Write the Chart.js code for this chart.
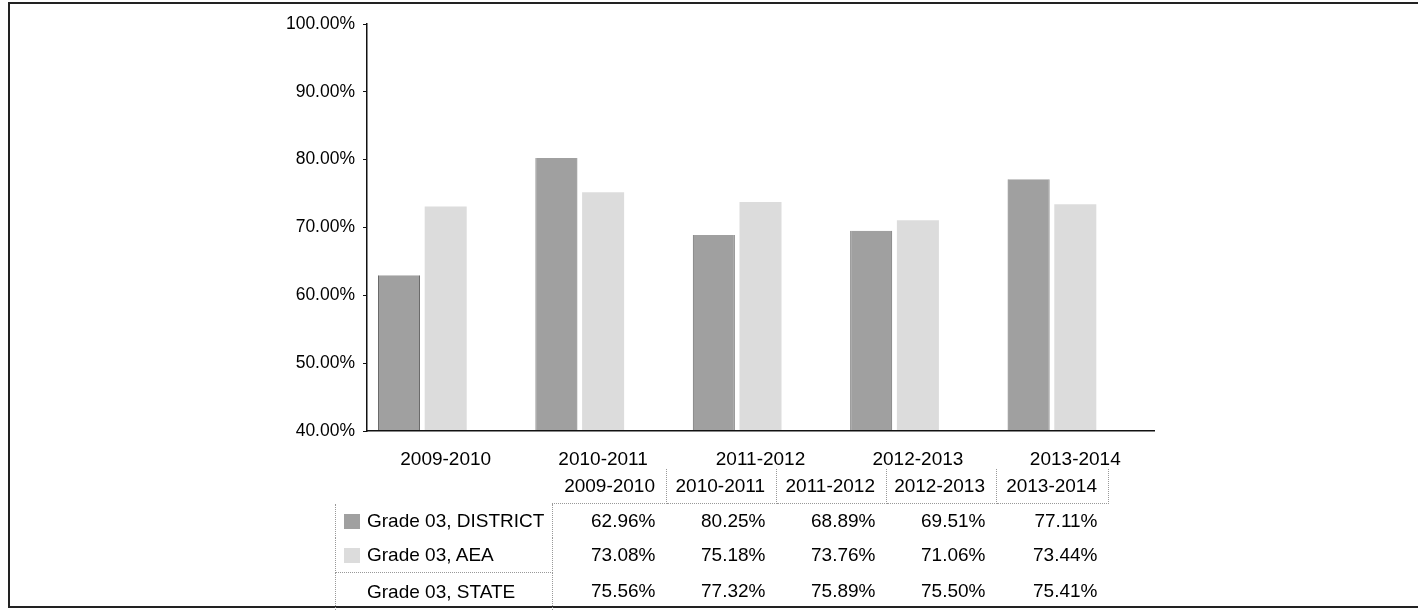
<!DOCTYPE html>
<html>
<head>
<meta charset="utf-8">
<script src="https://cdn.jsdelivr.net/npm/chart.js@4.4.1/dist/chart.umd.min.js"></script>
<style>
  html, body { margin: 0; padding: 0; background: #fff; }
  body { width: 1418px; height: 611px; position: relative; overflow: hidden; font-family: "Liberation Sans", Arial, sans-serif; color: #000; }
  #frame { position: absolute; left: 8px; top: 2px; width: 1500px; height: 606px; box-sizing: border-box; border: 2px solid #222; }
  #chart { position: absolute; left: 0; top: 0; }
  #tbl { position: absolute; left: 335px; top: 469px; border-collapse: collapse; table-layout: fixed; font-size: 19px; }
  #tbl td { padding: 0 11px 0 0; text-align: right; white-space: nowrap; }
  #tbl tr.head td { height: 34px; }
  #tbl tr.head td.col { border-right: 1px dotted #999; border-bottom: 1px dotted #999; }
  #tbl tr.row td { height: 34px; }
  #tbl tr.row:last-child td { height: 37px; }
  #tbl td.name { text-align: left; padding: 0 0 0 8px; border-left: 1px dotted #999; border-right: 1px dotted #999; }
  #tbl tr.head td.name { border: none; }
  #tbl tr.sep td.name { border-bottom: 1px dotted #999; }
  .sw { display: inline-block; width: 16px; height: 15px; vertical-align: -2px; margin-right: 7px; }
</style>
</head>
<body>
<div id="frame"></div>
<canvas id="chart" width="1418" height="611"></canvas>
<table id="tbl"></table>
<script>
const categories = ['2009-2010', '2010-2011', '2011-2012', '2012-2013', '2013-2014'];
const seriesNames = ['Grade 03, DISTRICT', 'Grade 03, AEA', 'Grade 03, STATE'];
const districtValues = [62.96, 80.25, 68.89, 69.51, 77.11];
const aeaValues = [73.08, 75.18, 73.76, 71.06, 73.44];
const stateValues = [75.56, 77.32, 75.89, 75.50, 75.41];
const seriesColors = ['#a0a0a0', '#dcdcdc', '#ffffff'];

const fontFamily = '"Liberation Sans", Arial, sans-serif';

let ctx = document.getElementById('chart').getContext('2d');

let chart = new Chart(ctx, {
    type: 'bar',
    data: {
        labels: categories,
        datasets: [{
                label: seriesNames[0],
                data: districtValues,
                backgroundColor: seriesColors[0],
                borderColor: '#6a6a6a',
                borderWidth: { left: 1, right: 1, top: 0, bottom: 0 }
            },
            {
                label: seriesNames[1],
                data: aeaValues,
                backgroundColor: seriesColors[1],
                borderWidth: 0
            },
            {
                label: seriesNames[2],
                data: stateValues,
                backgroundColor: seriesColors[2],
                borderWidth: 0
            }
        ]
    },
    options: {
        responsive: false,
        animation: false,
        layout: { padding: { left: 247, right: 264, top: 24, bottom: 140 } },
        plugins: { legend: { display: false }, tooltip: { enabled: false } },
        datasets: { bar: { categoryPercentage: 0.89, barPercentage: 0.9 } },
        scales: {
            x: {
                grid: { display: false },
                border: { display: true, color: '#111', width: 1.5, z: 1 },
                ticks: { color: '#000', font: { family: fontFamily, size: 19 }, padding: 9, maxRotation: 0 },
                afterFit: function (s) { s.height = 40; }
            },
            y: {
                min: 40,
                max: 100,
                ticks: {
                    stepSize: 10,
                    color: '#000',
                    font: { family: fontFamily, size: 17.5 },
                    padding: 8,
                    callback: function (v) { return v.toFixed(2) + '%'; }
                },
                grid: { drawOnChartArea: false, drawTicks: true, tickLength: 4, color: '#111' },
                border: { display: true, color: '#111', width: 1.5 },
                afterFit: function (s) { s.width = 120; }
            }
        }
    }
});

// data table under the chart
let colWidths = [217, 114, 110, 110, 110, 112];
let tbl = document.getElementById('tbl');
let cg = '<colgroup>' + colWidths.map(w => '<col style="width:' + w + 'px">').join('') + '</colgroup>';
let html = cg + '<tr class="head"><td class="name"></td>' +
    categories.map(c => '<td class="col">' + c + '</td>').join('') + '</tr>';
let allValues = [districtValues, aeaValues, stateValues];
allValues.forEach(function (vals, i) {
    let sw = i < 2 ? '<span class="sw" style="background:' + seriesColors[i] + '"></span>' : '<span class="sw"></span>';
    html += '<tr class="row' + (i === 1 ? ' sep' : '') + '"><td class="name">' + sw + seriesNames[i] + '</td>' +
        vals.map(v => '<td>' + v.toFixed(2) + '%</td>').join('') + '</tr>';
});
tbl.innerHTML = html;
</script>
</body>
</html>
